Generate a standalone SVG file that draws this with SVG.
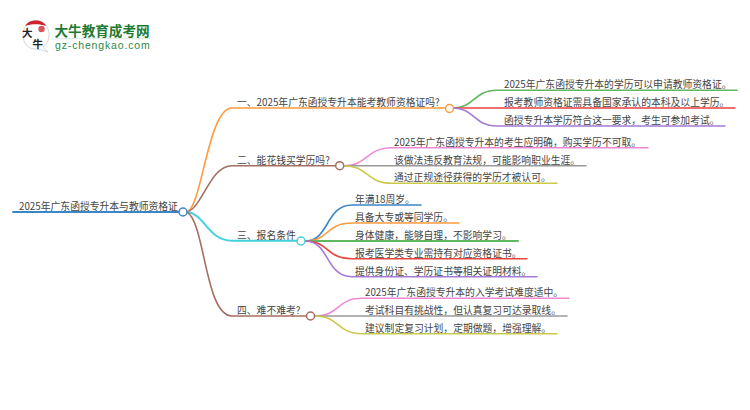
<svg xmlns="http://www.w3.org/2000/svg" width="750" height="410" viewBox="0 0 750 410">
<style>
text{font-family:"Noto Sans CJK SC","Liberation Sans",sans-serif;font-size:9.8px;fill:#444}
.c{fill:none;stroke-width:1.6;stroke-linecap:round}
.n{fill:#fff;stroke-width:1.5}
.blue{stroke:#3a87c7}.orange{stroke:#ff9a3d}.brown{stroke:#a46f61}.cyan{stroke:#45d0de}
.green{stroke:#5fb85f}.red{stroke:#e8423f}.purple{stroke:#a57bd6}.pink{stroke:#f08ad4}.gray{stroke:#9a9a9a}.olive{stroke:#c9c94a}
</style>
<g id="logo">
<path d="M36 20.500C44 20.500 49 27 49 35C49 41 46 45 43 47L48 52L38 49C29 50 23 44 23 35C23 27 28 20.500 36 20.500Z" fill="#fff" stroke="#d8d8d8"/>
<path d="M25 26C28 21.500 32 20.500 36 20.500C40 20.500 44 22 46 26C40 23.500 31 23.500 25 26Z" fill="#d0222a"/>
<circle cx="41.500" cy="29" r="3.200" fill="#d9545a"/>
<text x="22" y="36.500" style="font-size:10.500px;fill:#222;font-weight:700">大</text>
<text x="32.500" y="47.500" style="font-size:10.500px;fill:#222;font-weight:700">牛</text>
<text x="54.500" y="35.500" style="font-size:13.600px;fill:#1e7b34;font-weight:700">大牛教育成考网</text>
<line x1="55" y1="38.700" x2="150" y2="38.700" stroke="#dbe8dd"/>
<text x="55" y="48.500" style="font-size:10.500px;fill:#2c8a46;font-family:'Liberation Sans',sans-serif;font-weight:400;letter-spacing:.85px">gz-chengkao.com</text>
</g>
<g id="connectors">
<path class="c blue" d="M13 212H183" style="stroke-width:2"/>
<path class="c orange" d="M187 212C202 207 208 108 232 108H449"/>
<path class="c brown" d="M187 212C203 207 210 165.700 232 165.700H339"/>
<path class="c cyan" d="M187 212C205 214 208 240.700 232 240.700H301" style="stroke-width:2"/>
<path class="c brown" d="M187 212C205 222 205 316 232 316H310"/>
<path class="c green" d="M453 108C475 108 473 90.300 497 90.300H737"/>
<path class="c red" d="M453 108H735"/>
<path class="c purple" d="M453 108C475 108 473 126 497 126H725"/>
<path class="c pink" d="M344 165.700C368 165.700 366 147.700 392 147.700H648"/>
<path class="c gray" d="M344 165.700H586"/>
<path class="c olive" d="M344 165.700C368 165.700 366 183.300 392 183.300H557"/>
<path class="c blue" d="M305 241C330 241 325 205 352 205H421"/>
<path class="c orange" d="M305 241C330 241 325 223 352 223H459"/>
<path class="c green" d="M305 241H518" style="stroke-width:2"/>
<path class="c red" d="M305 241C330 241 325 258.700 352 258.700H527"/>
<path class="c purple" d="M305 241C330 241 325 276.700 352 276.700H537"/>
<path class="c pink" d="M315 316C340 316 336 298.300 362 298.300H569"/>
<path class="c gray" d="M315 316H567"/>
<path class="c olive" d="M315 316C340 316 336 333.700 362 333.700H557"/>
</g>
<g id="root"><text x="19" y="210">2025年广东函授专升本与教师资格证</text><circle class="n blue" cx="183" cy="212" r="4"/></g>
<g id="b1"><text x="237" y="106">一、2025年广东函授专升本能考教师资格证吗?</text><circle class="n orange" cx="449.500" cy="108.500" r="4"/></g>
<g id="b2"><text x="237" y="163.500">二、能花钱买学历吗?</text><circle class="n brown" cx="339.700" cy="165.700" r="4"/></g>
<g id="b3"><text x="237" y="238.500">三、报名条件</text><circle class="n cyan" cx="301" cy="241" r="4"/></g>
<g id="b4"><text x="237" y="314">四、难不难考?</text><circle class="n brown" cx="310.500" cy="316" r="4"/></g>
<g id="l11"><text x="504" y="88">2025年广东函授专升本的学历可以申请教师资格证。</text></g>
<g id="l12"><text x="504" y="106">报考教师资格证需具备国家承认的本科及以上学历。</text></g>
<g id="l13"><text x="504" y="124">函授专升本学历符合这一要求，考生可参加考试。</text></g>
<g id="l21"><text x="394" y="145.500">2025年广东函授专升本的考生应明确，购买学历不可取。</text></g>
<g id="l22"><text x="394" y="163.500">该做法违反教育法规，可能影响职业生涯。</text></g>
<g id="l23"><text x="394" y="181">通过正规途径获得的学历才被认可。</text></g>
<g id="l31"><text x="355" y="203">年满18周岁。</text></g>
<g id="l32"><text x="355" y="221">具备大专或等同学历。</text></g>
<g id="l33"><text x="355" y="238.500">身体健康，能够自理，不影响学习。</text></g>
<g id="l34"><text x="355" y="256.500">报考医学类专业需持有对应资格证书。</text></g>
<g id="l35"><text x="355" y="274.500">提供身份证、学历证书等相关证明材料。</text></g>
<g id="l41"><text x="365" y="296">2025年广东函授专升本的入学考试难度适中。</text></g>
<g id="l42"><text x="365" y="314">考试科目有挑战性，但认真复习可达录取线。</text></g>
<g id="l43"><text x="365" y="331.500">建议制定复习计划，定期做题，增强理解。</text></g>
</svg>
